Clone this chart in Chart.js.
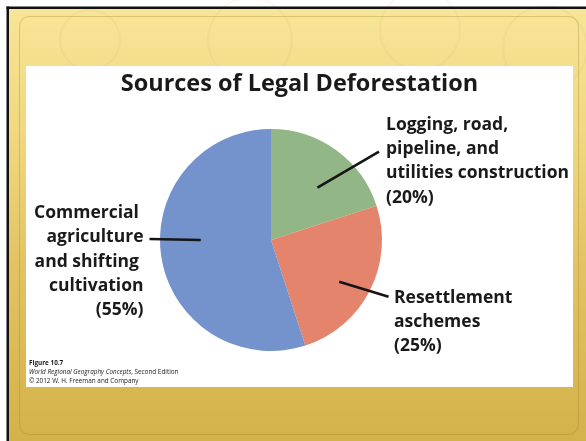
<!DOCTYPE html>
<html><head><meta charset="utf-8">
<script src="https://cdn.jsdelivr.net/npm/chart.js@4.4.0/dist/chart.umd.min.js"></script>
<style>html,body{margin:0;padding:0;background:#fff;overflow:hidden}canvas{display:block}</style>
</head><body>
<canvas id="c" width="586" height="441"></canvas>
<script>
// ---- data ----
const chartTitle = 'Sources of Legal Deforestation';
const categories = ['Logging, road, pipeline, and utilities construction', 'Resettlement aschemes', 'Commercial agriculture and shifting cultivation'];
const shares = [20, 25, 55];
const labelLines = [
  ['Logging, road,', 'pipeline, and', 'utilities construction'],
  ['Resettlement', 'aschemes'],
  ['Commercial ', 'agriculture', 'and shifting ', 'cultivation']
];
const noteFigure = 'Figure 10.7';
const noteBook = 'World Regional Geography Concepts';
const noteEdition = ', Second Edition';
const noteCopyright = '\u00A9 2012 W. H. Freeman and Company';

// ---- styles ----
const sliceColors = ['#93b686', '#e4846d', '#7492cb'];
const FONT = '"Open Sans", Lato, sans-serif';
const labelLayout = [
  {x: 386, y: 125, align: 'left', anchorDeg: 41.6, anchorR: 0.63, endDx: -7, endLine: 1, endDy: 2.5},
  {x: 394, y: 297.7, align: 'left', anchorDeg: 121.4, anchorR: 0.72, endDx: -5.4, endLine: 0, endDy: -1},
  {x: 143.5, y: 213.3, align: 'right', anchorDeg: 270, anchorR: 0.633, endDx: 6, endLine: 1, endDy: 1.5}
];
const lineGap = 24.2;

function fitSize(ctx, text, style, target) {
  ctx.font = style + ' 100px ' + FONT;
  return 100 * target / ctx.measureText(text).width;
}

const backgroundPlugin = {
  id: 'slideBg',
  beforeDraw(chart) {
    const ctx = chart.ctx;
    ctx.save();
    ctx.fillStyle = '#ffffff';
    ctx.fillRect(0, 0, 586, 441);
    const g = ctx.createLinearGradient(0, 8, 0, 441);
    g.addColorStop(0, '#f8e597');
    g.addColorStop(0.3, '#f0d77f');
    g.addColorStop(0.6, '#e2c363');
    g.addColorStop(1, '#d4b24a');
    ctx.fillStyle = g;
    ctx.fillRect(8, 8, 578, 433);
    // faint stamps
    ctx.strokeStyle = 'rgba(214,130,90,0.08)';
    ctx.lineWidth = 2;
    [[250, 40, 42], [420, 30, 40], [545, 48, 42], [90, 40, 30]].forEach(([x, y, r]) => {
      ctx.beginPath(); ctx.arc(x, y, r, 0, Math.PI * 2); ctx.stroke();
    });
    // black border top & left
    ctx.fillStyle = '#111';
    ctx.fillRect(6.5, 6.5, 580, 2.5);
    ctx.fillRect(6.5, 6.5, 2.5, 435);
    // inner rounded line
    ctx.strokeStyle = 'rgba(150,120,40,0.3)';
    ctx.lineWidth = 1;
    ctx.beginPath();
    ctx.roundRect(19.5, 16.5, 559, 418, 10);
    ctx.stroke();
    // white panel
    ctx.fillStyle = '#ffffff';
    ctx.fillRect(26, 66, 547, 321);
    ctx.restore();
  }
};

const textPlugin = {
  id: 'texts',
  afterDatasetsDraw(chart) {
    const ctx = chart.ctx;
    const meta = chart.getDatasetMeta(0);
    ctx.save();
    ctx.fillStyle = '#1a1a1a';
    ctx.textBaseline = 'middle';
    // title
    const ts = fitSize(ctx, chartTitle, 'bold', 357.6);
    ctx.font = 'bold ' + ts + 'px ' + FONT;
    ctx.textAlign = 'center';
    ctx.fillText(chartTitle, 299.5, 84);
    // labels and leaders
    const ls = fitSize(ctx, labelLines[0][2], 'bold', 183);
    labelLayout.forEach((lay, i) => {
      const arc = meta.data[i];
      const lines = labelLines[i].concat(['(' + shares[i] + '%)']);
      ctx.font = 'bold ' + ls + 'px ' + FONT;
      ctx.textAlign = lay.align;
      lines.forEach((t, k) => ctx.fillText(t, lay.x, lay.y + k * lineGap));
      const a = lay.anchorDeg * Math.PI / 180;
      const r = arc.outerRadius * lay.anchorR;
      const x0 = arc.x + r * Math.sin(a), y0 = arc.y - r * Math.cos(a);
      const x1 = lay.x + lay.endDx, y1 = lay.y + lay.endLine * lineGap + lay.endDy;
      ctx.strokeStyle = '#151515';
      ctx.lineWidth = 2.6;
      ctx.beginPath(); ctx.moveTo(x0, y0); ctx.lineTo(x1, y1); ctx.stroke();
    });
    // source note
    const ns = fitSize(ctx, noteBook + noteEdition, '', 156);
    ctx.textAlign = 'left';
    ctx.font = 'bold ' + ns + 'px ' + FONT;
    ctx.fillText(noteFigure, 29, 362.7);
    ctx.font = 'italic ' + ns + 'px ' + FONT;
    ctx.fillText(noteBook, 29, 372);
    const w = ctx.measureText(noteBook).width;
    ctx.font = ns + 'px ' + FONT;
    ctx.fillText(noteEdition, 29 + w, 372);
    ctx.fillText(noteCopyright, 29, 381);
    ctx.restore();
  }
};

new Chart(document.getElementById('c'), {
  type: 'pie',
  data: {
    labels: categories,
    datasets: [{data: shares, backgroundColor: sliceColors, borderWidth: 0}]
  },
  options: {
    responsive: false,
    animation: false,
    devicePixelRatio: 1,
    layout: {padding: {top: 129, bottom: 90, left: 160, right: 204}},
    plugins: {legend: {display: false}, tooltip: {enabled: false}, title: {display: false}}
  },
  plugins: [backgroundPlugin, textPlugin]
});
</script>
</body></html>
